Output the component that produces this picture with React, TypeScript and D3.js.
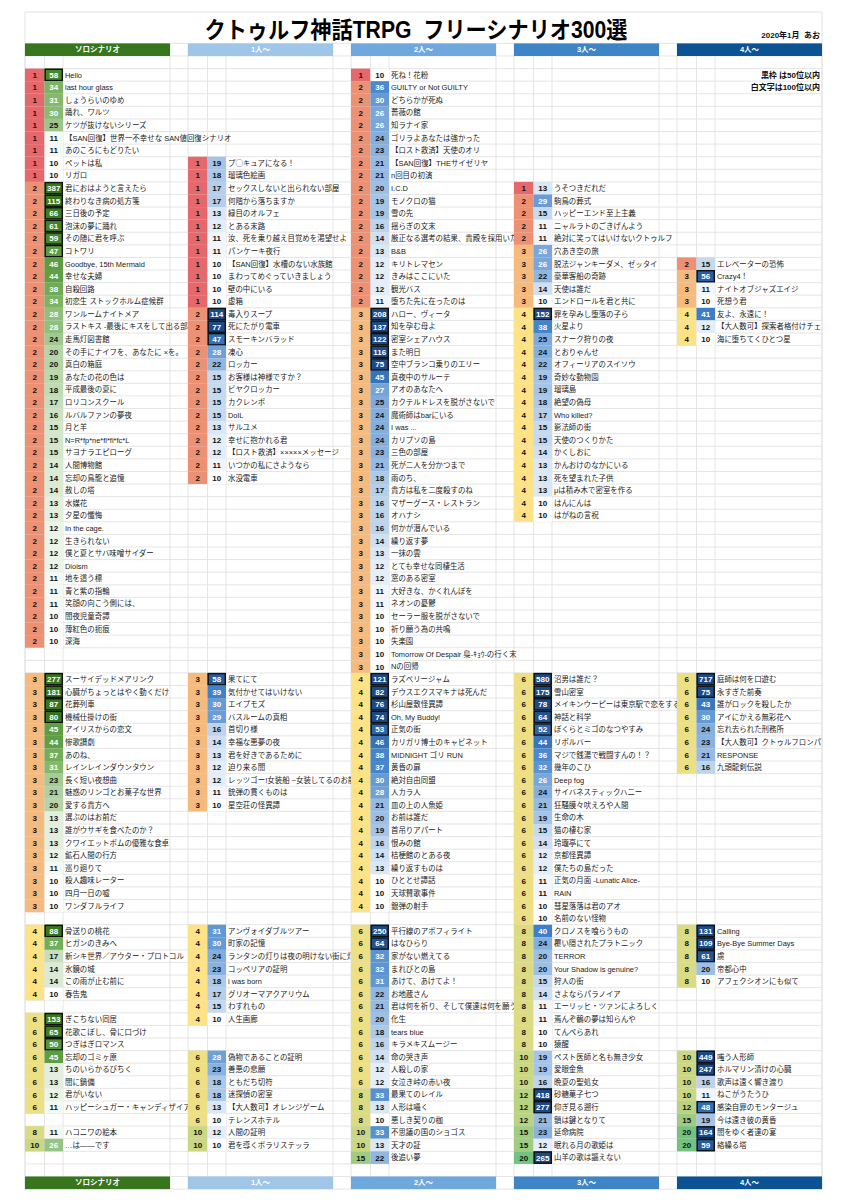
import React from "react";
import * as d3 from "d3";

type Row = [number, number, string] | null;
const blank = (n: number): Row[] => Array.from({ length: n }, () => null);

const BLOCK_TITLES = ["ソロシナリオ", "1人～", "2人～", "3人～", "4人～"];
const HEADER_COLORS = ["#38761d", "#9fc5e8", "#6fa8dc", "#3d85c6", "#0b5394"];
const TITLE = "クトゥルフ神話TRPG  フリーシナリオ300選";
const DATE_NOTE = "2020年1月  あお";
const NOTES = ["黒枠 は50位以内", "白文字は100位以内"];
const TOP50_MIN = 47;
const TOP100_MIN = 26;

const SOLO: Row[] = [
  [1, 58, "Hello"],
  [1, 34, "last hour glass"],
  [1, 31, "しょうらいのゆめ"],
  [1, 30, "踊れ、ワルツ"],
  [1, 25, "ケツが抜けないシリーズ"],
  [1, 11, "【SAN回復】世界一不幸せな SAN値回復シナリオ"],
  [1, 11, "あのころにもどりたい"],
  [1, 10, "ペットは私"],
  [1, 10, "リガロ"],
  [2, 387, "君におはようと言えたら"],
  [2, 115, "終わりなき病の処方箋"],
  [2, 66, "三日後の予定"],
  [2, 61, "泡沫の夢に踊れ"],
  [2, 59, "その随に君を呼ぶ"],
  [2, 47, "コトワリ"],
  [2, 46, "Goodbye, 15th Mermaid"],
  [2, 44, "幸せな夫婦"],
  [2, 38, "自殺回路"],
  [2, 34, "初恋生 ストックホルム症候群"],
  [2, 28, "ワンルームナイトメア"],
  [2, 28, "ラストキス -最後にキスをして出る部屋-"],
  [2, 24, "走馬灯図書館"],
  [2, 20, "その手にナイフを、あなたに ×を。"],
  [2, 20, "真白の箱庭"],
  [2, 19, "あなたの花の色は"],
  [2, 18, "平成最後の夏に"],
  [2, 17, "ロリコンスクール"],
  [2, 16, "ルバルファンの夢夜"],
  [2, 15, "月と羊"],
  [2, 15, "N=R*fp*ne*fl*fi*fc*L"],
  [2, 15, "サヨナラエピローグ"],
  [2, 14, "人間博物館"],
  [2, 14, "忘却の鳥籠と追憶"],
  [2, 14, "赦しの塔"],
  [2, 13, "水媒花"],
  [2, 13, "夕星の懺悔"],
  [2, 12, "In the cage."],
  [2, 12, "生きられない"],
  [2, 12, "僕と夏とサバ味噌サイダー"],
  [2, 12, "Dioism"],
  [2, 11, "地を這う標"],
  [2, 11, "青と紫の指輪"],
  [2, 11, "笑顔の向こう側には、"],
  [2, 10, "闇夜児童奇譚"],
  [2, 10, "薄紅色の扼痕"],
  [2, 10, "深海"],
  ...blank(2),
  [3, 277, "スーサイデッドメアリンク"],
  [3, 181, "心臓がちょっとはやく動くだけ"],
  [3, 87, "花葬列車"],
  [3, 80, "機械仕掛けの街"],
  [3, 45, "アイリスからの恋文"],
  [3, 44, "惨歌讃劇"],
  [3, 37, "あのね、"],
  [3, 31, "レインレインダウンタウン"],
  [3, 23, "長く短い夜想曲"],
  [3, 21, "魅惑のリンゴとお菓子な世界"],
  [3, 20, "愛する貴方へ"],
  [3, 13, "選ぶのはお前だ"],
  [3, 13, "誰がウサギを食べたのか？"],
  [3, 13, "クワイエットボムの優雅な食卓"],
  [3, 12, "鉱石人間の行方"],
  [3, 11, "巡り廻りて"],
  [3, 10, "殺人趣味レーター"],
  [3, 10, "四月一日の嘘"],
  [3, 10, "ワンダフルライフ"],
  ...blank(1),
  [4, 88, "骨送りの桃花"],
  [4, 37, "ヒガンのきみへ"],
  [4, 17, "新シキ世界／アウター・プロトコル"],
  [4, 14, "氷鏡の城"],
  [4, 14, "この雨が止む前に"],
  [4, 10, "春告鬼"],
  ...blank(1),
  [6, 153, "ぎこちない同居"],
  [6, 65, "花歌こぼし、骨に口づけ"],
  [6, 50, "つぎはぎロマンス"],
  [6, 45, "忘却のゴミヶ原"],
  [6, 13, "ちのいらかるびちく"],
  [6, 13, "闇に鍋備"],
  [6, 12, "君がいない"],
  [6, 11, "ハッピーシュガー・キャンディザイア"],
  ...blank(1),
  [8, 11, "ハコニワの絵本"],
  [10, 26, "…は――です"],
];

const ONE: Row[] = [
  ...blank(7),
  [1, 19, "プ◯キュアになる！"],
  [1, 18, "瑠璃色絵画"],
  [1, 17, "セックスしないと出られない部屋"],
  [1, 17, "何階から落ちますか"],
  [1, 13, "緑目のオルフェ"],
  [1, 12, "とある末路"],
  [1, 11, "汝、死を乗り越え目覚めを渇望せよ"],
  [1, 11, "パンケーキ夜行"],
  [1, 10, "【SAN回復】水槽のない水族館"],
  [1, 10, "まわってめぐっていきましょう"],
  [1, 10, "壁の中にいる"],
  [1, 10, "虚箱"],
  [2, 114, "毒入りスープ"],
  [2, 77, "死にたがり電車"],
  [2, 47, "スモーキンバラッド"],
  [2, 28, "凍心"],
  [2, 22, "ロッカー"],
  [2, 15, "お客様は神様ですか？"],
  [2, 15, "ビヤクロッカー"],
  [2, 15, "カクレンボ"],
  [2, 15, "DolL"],
  [2, 13, "サルユメ"],
  [2, 12, "幸せに抱かれる君"],
  [2, 12, "【ロスト救済】×××××メッセージ"],
  [2, 11, "いつかの私にさようなら"],
  [2, 10, "水没電車"],
  ...blank(15),
  [3, 58, "果てにて"],
  [3, 39, "気付かせてはいけない"],
  [3, 30, "エイプモズ"],
  [3, 29, "バスルームの真相"],
  [3, 16, "首切り様"],
  [3, 14, "幸福な悪夢の夜"],
  [3, 13, "君を好きであるために"],
  [3, 12, "迫り来る闇"],
  [3, 12, "レッツゴー!女装船 ~女装してるのお前だけ~"],
  [3, 11, "銃弾の貫くものは"],
  [3, 10, "星空荘の怪異譚"],
  ...blank(9),
  [4, 31, "アンヴォイダブルツアー"],
  [4, 30, "町家の記憶"],
  [4, 24, "ランタンの灯りは夜の明けない街に灯る"],
  [4, 23, "コッペリアの証明"],
  [4, 18, "i was born"],
  [4, 17, "グリオーマアクアリウム"],
  [4, 15, "わすれもの"],
  [4, 10, "人生画廊"],
  ...blank(2),
  [6, 28, "偽物であることの証明"],
  [6, 23, "善悪の悲願"],
  [6, 18, "ともだち切符"],
  [6, 18, "迷探偵の密室"],
  [6, 13, "【大人数可】オレンジゲーム"],
  [6, 10, "テレンスホテル"],
  [10, 12, "人間の証明"],
  [10, 10, "君を導くポラリステッラ"],
];

const TWO: Row[] = [
  [1, 10, "死ね！花粉"],
  [2, 36, "GUILTY or Not GUILTY"],
  [2, 30, "どちらかが死ぬ"],
  [2, 26, "薔薇の館"],
  [2, 26, "知ラナイ家"],
  [2, 24, "ゴリラよあなたは強かった"],
  [2, 23, "【ロスト救済】天使のオリ"],
  [2, 21, "【SAN回復】THEサイゼリヤ"],
  [2, 21, "n回目の初演"],
  [2, 20, "I.C.D"],
  [2, 19, "モノクロの猫"],
  [2, 19, "雪の先"],
  [2, 16, "揺らぎの文末"],
  [2, 14, "厳正なる選考の結果、貴殿を採用いたします"],
  [2, 13, "B&B"],
  [2, 12, "キリトレマセン"],
  [2, 12, "きみはここにいた"],
  [2, 12, "観光バス"],
  [2, 11, "堕ちた先に在ったのは"],
  [3, 208, "ハロー、ヴィータ"],
  [3, 137, "知を孕む母よ"],
  [3, 122, "密室シェアハウス"],
  [3, 116, "また明日"],
  [3, 75, "空中ブランコ乗りのエリー"],
  [3, 45, "真夜中のサルーテ"],
  [3, 27, "アオのあなたへ"],
  [3, 25, "カクテルドレスを脱がさないで"],
  [3, 24, "魔術師はbarにいる"],
  [3, 24, "I was ..."],
  [3, 24, "カリプソの島"],
  [3, 23, "三色の部屋"],
  [3, 21, "死が二人を分かつまで"],
  [3, 18, "雨のち、"],
  [3, 17, "貴方は私を二度殺すのね"],
  [3, 16, "マザーグース・レストラン"],
  [3, 16, "オハナシ"],
  [3, 16, "何かが潜んでいる"],
  [3, 14, "繰り返す夢"],
  [3, 13, "一抹の雲"],
  [3, 12, "とても幸せな同棲生活"],
  [3, 12, "窓のある密室"],
  [3, 11, "大好きな、かくれんぼを"],
  [3, 11, "ネオンの憂鬱"],
  [3, 10, "セーラー服を脱がさないで"],
  [3, 10, "祈り願う為の共鳴"],
  [3, 10, "失楽園"],
  [3, 10, "Tomorrow Of Despair 梟-ｷｮｳ-の行く末"],
  [3, 10, "Nの回帰"],
  [4, 121, "ラズベリージャム"],
  [4, 82, "デウスエクスマキナは死んだ"],
  [4, 76, "杉山屋敷怪異譚"],
  [4, 74, "Oh, My Buddy!"],
  [4, 53, "正気の街"],
  [4, 46, "カリガリ博士のキャビネット"],
  [4, 38, "MIDNIGHT ゴリ RUN"],
  [4, 37, "黄昏の扉"],
  [4, 30, "絶対自由同盟"],
  [4, 28, "人カラ人"],
  [4, 21, "皿の上の人魚姫"],
  [4, 20, "お前は誰だ"],
  [4, 19, "首吊りアパート"],
  [4, 16, "恨みの館"],
  [4, 14, "桔梗館のとある夜"],
  [4, 13, "繰り返すものは"],
  [4, 10, "ひととせ譚話"],
  [4, 10, "天球賛歌事件"],
  [4, 10, "銀弾の射手"],
  ...blank(1),
  [6, 250, "平行線のアポフィライト"],
  [6, 64, "はなひらり"],
  [6, 32, "家がない燃えてる"],
  [6, 32, "まれびとの島"],
  [6, 31, "あけて、あけてよ！"],
  [6, 22, "お地蔵さん"],
  [6, 21, "君は何を祈り、そして僕達は何を願うのか"],
  [6, 20, "化生"],
  [6, 18, "tears blue"],
  [6, 16, "キラメキスムージー"],
  [6, 14, "命の哭き声"],
  [6, 12, "人殺しの家"],
  [6, 12, "女泣き峠の赤い夜"],
  [8, 33, "最果てのレイル"],
  [8, 13, "人形は囁く"],
  [8, 10, "悪しき契りの枷"],
  [10, 33, "不思議の国のショゴス"],
  [10, 13, "天才の証"],
  [15, 22, "後追い夢"],
];

const THREE: Row[] = [
  ...blank(9),
  [1, 13, "うそつきだれだ"],
  [2, 29, "駒鳥の葬式"],
  [2, 15, "ハッピーエンド至上主義"],
  [2, 11, "ニャルラトのごきげんよう"],
  [2, 11, "絶対に笑ってはいけないクトゥルフ"],
  [3, 26, "穴あき空の旅"],
  [3, 26, "脱法ジャンキーダメ、ゼッタイ"],
  [3, 22, "豪華客船の奇跡"],
  [3, 14, "天使は誰だ"],
  [3, 10, "エンドロールを君と共に"],
  [4, 152, "罪を孕みし堕落の子ら"],
  [4, 38, "火星より"],
  [4, 25, "スナーク狩りの夜"],
  [4, 24, "とおりゃんせ"],
  [4, 22, "オフィーリアのスイソウ"],
  [4, 19, "奇妙な動物園"],
  [4, 19, "瑠璃島"],
  [4, 18, "絶望の偽母"],
  [4, 17, "Who killed?"],
  [4, 15, "影法師の街"],
  [4, 15, "天使のつくりかた"],
  [4, 14, "かくしおに"],
  [4, 13, "かんおけのなかにいる"],
  [4, 13, "死を望まれた子供"],
  [4, 13, "μは積み木で密室を作る"],
  [4, 10, "はんにんは"],
  [4, 10, "はがねの言祝"],
  ...blank(12),
  [6, 580, "沼男は誰だ？"],
  [6, 175, "雪山密室"],
  [6, 78, "メイキンウーピーは東京駅で恋をする"],
  [6, 64, "神話と科学"],
  [6, 52, "ぼくらとミゴのなつやすみ"],
  [6, 44, "リボルバー"],
  [6, 36, "マジで銭湯で戦闘すんの！？"],
  [6, 32, "幾年のこひ"],
  [6, 26, "Deep fog"],
  [6, 24, "サイバネスティックハニー"],
  [6, 21, "狂騒膜々吠えろや人間"],
  [6, 19, "生命の木"],
  [6, 15, "猫の棲む家"],
  [6, 14, "玲瓏亭にて"],
  [6, 12, "京都怪異譚"],
  [6, 12, "僕たちの島だった"],
  [6, 11, "正気の月面 -Lunatic Alice-"],
  [6, 11, "RAiN"],
  [6, 10, "彗星落落は君のアオ"],
  [6, 10, "名前のない怪物"],
  [8, 40, "クロノスを喰らうもの"],
  [8, 24, "覆い隠されたプラトニック"],
  [8, 20, "TERROR"],
  [8, 20, "Your Shadow is genuine?"],
  [8, 15, "狩人の街"],
  [8, 14, "さよならパラノイア"],
  [8, 11, "エーリッヒ・ツァンによろしく"],
  [8, 11, "焉んぞ鶺の夢は知らんや"],
  [8, 10, "てんぺらあれ"],
  [8, 10, "猿醒"],
  [10, 19, "ペスト医師と名も無き少女"],
  [10, 19, "愛眼金魚"],
  [10, 16, "晩夏の聖処女"],
  [12, 418, "砂糖菓子七つ"],
  [12, 277, "仰ぎ見る遡行"],
  [12, 21, "鎖は鍵となりて"],
  [15, 23, "延命病院"],
  [15, 12, "眠れる月の歌姫は"],
  [20, 265, "山羊の歌は謳えない"],
];

const FOUR: Row[] = [
  ...blank(15),
  [2, 15, "エレベーターの恐怖"],
  [3, 56, "Crazy4！"],
  [3, 11, "ナイトオブジャズエイジ"],
  [3, 10, "死想う君"],
  [4, 41, "友よ、永遠に！"],
  [4, 12, "【大人数可】探索者格付けチェック"],
  [4, 10, "海に堕ちてくひとつ星"],
  ...blank(26),
  [6, 717, "庭師は何を口遊む"],
  [6, 75, "永すぎた前奏"],
  [6, 43, "誰がロックを殺したか"],
  [6, 30, "アイにかえる無彩花へ"],
  [6, 24, "忘れ去られた刑務所"],
  [6, 23, "【大人数可】クトゥルフロンパ"],
  [6, 21, "RESPONSE"],
  [6, 16, "九頭龍剣伝説"],
  ...blank(12),
  [8, 131, "Calling"],
  [8, 109, "Bye-Bye Summer Days"],
  [8, 61, "虜"],
  [8, 20, "帝都心中"],
  [8, 10, "アフェクシオンにも似て"],
  ...blank(5),
  [10, 449, "嗤う人形師"],
  [10, 247, "ホルマリン漬けの心臓"],
  [10, 16, "歌声は遠く響き渡り"],
  [10, 11, "ねこがうたうひ"],
  [12, 48, "感染自罪のモンタージュ"],
  [15, 19, "今は遠き彼の黄昏"],
  [20, 164, "闇をゆく者達の宴"],
  [20, 59, "絡繰る塔"],
];

const COLUMNS: Row[][] = [SOLO, ONE, TWO, THREE, FOUR];

const FONT = "'Liberation Sans', Arial, 'Noto Sans CJK JP', sans-serif";

export default function App() {
  const W = 848;
  const H = 1200;
  const sheetL = 25;
  const sheetR = 822;
  const sheetT = 12;
  const headTop = 43.4;
  const rowStep = 12.59;
  const firstRow = -2;
  const lastRow = 88;
  const rows = d3.range(firstRow, lastRow + 1);

  const blocks = d3.range(BLOCK_TITLES.length);
  const x = d3
    .scaleBand<number>()
    .domain(blocks)
    .range([sheetL, sheetR])
    .paddingInner(18 / 163);
  const y = d3
    .scaleBand<number>()
    .domain(rows)
    .range([headTop, headTop + rows.length * rowStep]);
  const rh = y.bandwidth();
  const bw = x.bandwidth();
  const rankW = 19.5;
  const valW = 18.5;
  const sheetB = (y(lastRow) as number) + rh;

  const rankColor = d3
    .scaleLinear<string>()
    .domain([1, 4, 20])
    .range(["#e5686c", "#fde385", "#74c27f"])
    .interpolate(d3.interpolateRgb)
    .clamp(true);
  const greenScale = d3
    .scaleLog<string>()
    .domain([10, 40, 70])
    .range(["#ffffff", "#6aa84f", "#38761d"])
    .interpolate(d3.interpolateRgb)
    .clamp(true);
  const blueScale = d3
    .scaleLog<string>()
    .domain([10, 40, 70])
    .range(["#ffffff", "#3d7fc8", "#1c4a86"])
    .interpolate(d3.interpolateRgb)
    .clamp(true);

  const occupied = (b: number, r: number) => {
    if (b === 4 && r >= 0 && r < NOTES.length) return true;
    const col = COLUMNS[b];
    return r >= 0 && r < col.length && col[r] !== null;
  };
  const clipRight = (b: number, r: number) => {
    for (let nb = b + 1; nb < blocks.length; nb++) {
      if (occupied(nb, r)) return x(nb) as number;
    }
    return sheetR;
  };

  const vLines: number[] = [sheetL, sheetR];
  blocks.forEach((b) => {
    const x0 = x(b) as number;
    vLines.push(x0, x0 + rankW, x0 + rankW + valW, x0 + bw);
  });
  const hLines = d3.range(firstRow, lastRow + 2).map((r) => headTop + (r - firstRow) * rowStep);

  const cells: React.ReactNode[] = [];
  const clips: React.ReactNode[] = [];
  COLUMNS.forEach((col, b) => {
    const x0 = x(b) as number;
    col.forEach((d, r) => {
      if (!d) return;
      const [rank, val, name] = d;
      const y0 = y(r) as number;
      const fill = b === 0 ? greenScale(val) : blueScale(val);
      const id = `clip-${b}-${r}`;
      const cr = clipRight(b, r);
      clips.push(
        <clipPath id={id} key={id}>
          <rect x={x0 + rankW + valW} y={y0} width={cr - (x0 + rankW + valW)} height={rh} />
        </clipPath>
      );
      cells.push(
        <g key={`c-${b}-${r}`}>
          <rect x={x0} y={y0} width={rankW} height={rh} fill={rankColor(rank)} />
          <rect x={x0 + rankW} y={y0} width={valW} height={rh} fill={fill} />
          {val >= TOP50_MIN && (
            <rect
              x={x0 + rankW + 0.7}
              y={y0 + 0.7}
              width={valW - 1.4}
              height={rh - 1.4}
              fill="none"
              stroke="#111"
              strokeWidth={1.4}
            />
          )}
          <text x={x0 + rankW / 2} y={y0 + rh / 2 + 2.9} textAnchor="middle" fontSize={8} fontWeight="bold" fill="#111">
            {rank}
          </text>
          <text
            x={x0 + rankW + valW / 2}
            y={y0 + rh / 2 + 2.9}
            textAnchor="middle"
            fontSize={8}
            fontWeight="bold"
            fill={val >= TOP100_MIN ? "#ffffff" : "#111"}
          >
            {val}
          </text>
          <text
            x={x0 + rankW + valW + 2}
            y={y0 + rh / 2 + 2.8}
            fontSize={7.45}
            fill="#222"
            clipPath={`url(#${id})`}
          >
            {name}
          </text>
        </g>
      );
    });
  });

  const headerRows = [firstRow, lastRow];

  return (
    <svg
      width={W}
      height={H}
      viewBox={`0 0 ${W} ${H}`}
      style={{ position: "absolute", left: 0, top: 0, background: "#fff" }}
      fontFamily={FONT}
    >
      <rect x={0} y={0} width={W} height={H} fill="#ffffff" />
      <defs>{clips}</defs>
      <line x1={sheetL} x2={sheetR} y1={sheetT} y2={sheetT} stroke="#e3e3e3" strokeWidth={1} />
      <line x1={sheetL} x2={sheetL} y1={sheetT} y2={headTop} stroke="#e3e3e3" strokeWidth={1} />
      <line x1={sheetR} x2={sheetR} y1={sheetT} y2={headTop} stroke="#e3e3e3" strokeWidth={1} />
      <g stroke="#e2e2e2" strokeWidth={0.9}>
        {hLines.map((yy, i) => (
          <line key={`h${i}`} x1={sheetL} x2={sheetR} y1={yy} y2={yy} />
        ))}
        {vLines.map((xx, i) => (
          <line key={`v${i}`} x1={xx} x2={xx} y1={headTop} y2={sheetB} />
        ))}
      </g>
      <text
        x={416}
        y={37.5}
        textAnchor="middle"
        fontSize={23}
        fontWeight="bold"
        fill="#000"
        textLength={423}
        lengthAdjust="spacingAndGlyphs"
        style={{ whiteSpace: "pre" }}
      >
        {TITLE}
      </text>
      <text
        x={sheetR - 2}
        y={38}
        textAnchor="end"
        fontSize={8}
        fontWeight="bold"
        fill="#111"
        style={{ whiteSpace: "pre" }}
      >
        {DATE_NOTE}
      </text>
      {headerRows.map((hr) =>
        blocks.map((b) => (
          <g key={`hd-${hr}-${b}`}>
            <rect x={x(b)} y={y(hr)} width={bw} height={rh} fill={HEADER_COLORS[b]} />
            <text
              x={(x(b) as number) + bw / 2}
              y={(y(hr) as number) + rh / 2 + 2.7}
              textAnchor="middle"
              fontSize={7.5}
              fontWeight="bold"
              fill="#ffffff"
            >
              {BLOCK_TITLES[b]}
            </text>
          </g>
        ))
      )}
      {NOTES.map((n, i) => (
        <text
          key={`note${i}`}
          x={sheetR - 2}
          y={(y(i) as number) + rh / 2 + 2.8}
          textAnchor="end"
          fontSize={8}
          fontWeight="bold"
          fill="#111"
        >
          {n}
        </text>
      ))}
      {cells}
    </svg>
  );
}
